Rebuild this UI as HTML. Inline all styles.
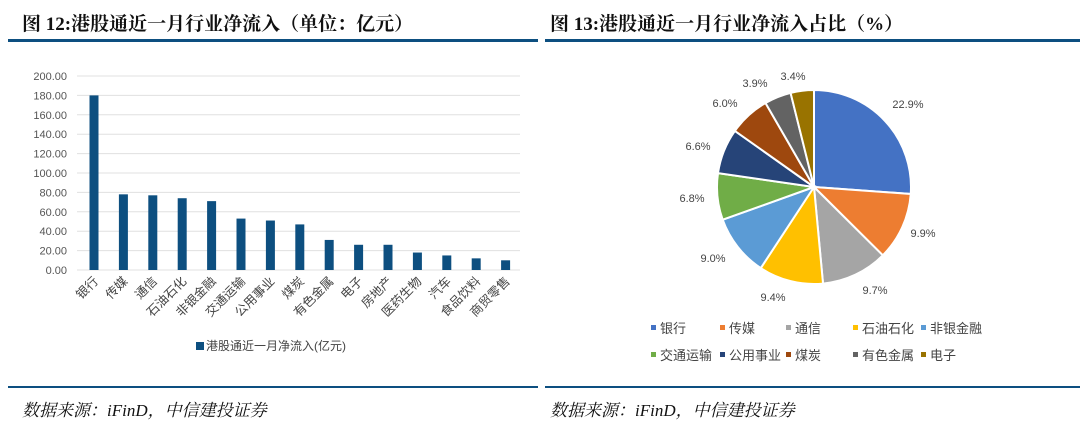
<!DOCTYPE html>
<html><head><meta charset="utf-8"><style>
body{margin:0;width:1080px;height:425px;background:#fff;overflow:hidden;position:relative;font-family:"Liberation Sans","Noto Sans CJK SC",sans-serif}
.t{position:absolute;font-family:"Liberation Serif","Noto Serif CJK SC",serif;font-weight:bold;font-size:19px;color:#111;top:9px}
.s{position:absolute;font-family:"Liberation Serif","Noto Serif CJK SC",serif;font-style:italic;font-size:17px;color:#111;top:396px}
.ln{position:absolute;height:3px;background:#0d4f80}
</style></head><body>
<div class="t" style="left:22px">图 12:港股通近一月行业净流入（单位：亿元）</div>
<div class="t" style="left:550px">图 13:港股通近一月行业净流入占比（%）</div>
<div class="ln" style="left:8px;width:530px;top:39px"></div>
<div class="ln" style="left:545px;width:535px;top:39px"></div>
<div class="ln" style="left:8px;width:530px;top:386px;height:2px"></div>
<div class="ln" style="left:545px;width:535px;top:386px;height:2px"></div>
<div class="s" style="left:22px">数据来源：iFinD，中信建投证券</div>
<div class="s" style="left:550px">数据来源：iFinD，中信建投证券</div>
<svg id="bar" width="1080" height="425" style="position:absolute;left:0;top:0" font-family="Liberation Sans, Noto Sans CJK SC, sans-serif"></svg>
<script>
var s=document.getElementById('bar'),h='';
for(var i=0;i<=10;i++){var y=270-i*19.4;h+='<line x1="77" x2="520" y1="'+y+'" y2="'+y+'" stroke="#e0e0e0" stroke-width="1"/>';
h+='<text x="67" y="'+(y+4)+'" font-size="11" fill="#555" text-anchor="end">'+(i*20).toFixed(2)+'</text>';}
var v=[180,78,77,74,71,53,51,47,31,26,26,18,15,12,10];
var n=['银行','传媒','通信','石油石化','非银金融','交通运输','公用事业','煤炭','有色金属','电子','房地产','医药生物','汽车','食品饮料','商贸零售'];
for(i=0;i<15;i++){var x=94+i*29.4;h+='<rect x="'+(x-4.5)+'" y="'+(270-v[i]*0.97)+'" width="9" height="'+(v[i]*0.97)+'" fill="#0d4f80"/>';
h+='<text transform="translate('+(x+5)+',282) rotate(-45)" font-size="12.5" fill="#444" text-anchor="end">'+n[i]+'</text>';}
h+='<rect x="196" y="342" width="8" height="8" fill="#0d4f80"/><text x="206" y="350" font-size="12" fill="#444">港股通近一月净流入(亿元)</text>';
var p=[22.9,9.9,9.7,9.4,9.0,6.8,6.6,6.0,3.9,3.4],c=['#4472c4','#ed7d31','#a5a5a5','#ffc000','#5b9bd5','#70ad47','#264478','#9e480e','#636363','#997300'];
var tot=0;p.forEach(function(a){tot+=a});var a0=-Math.PI/2,cx=814,cy=187,r=97;
for(i=0;i<10;i++){var a1=a0+p[i]/tot*2*Math.PI;var lg=(a1-a0)>Math.PI?1:0;
h+='<path d="M'+cx+','+cy+' L'+(cx+r*Math.cos(a0))+','+(cy+r*Math.sin(a0))+' A'+r+','+r+' 0 '+lg+' 1 '+(cx+r*Math.cos(a1))+','+(cy+r*Math.sin(a1))+' Z" fill="'+c[i]+'" stroke="#fff" stroke-width="2"/>';a0=a1;}
var lp=[[908,108],[923,237],[875,294],[773,301],[713,262],[692,202],[698,150],[725,107],[755,87],[793,80]];
for(i=0;i<10;i++)h+='<text x="'+lp[i][0]+'" y="'+lp[i][1]+'" font-size="11" fill="#444" text-anchor="middle">'+p[i].toFixed(1)+'%</text>';
var lx=[653,722,788,855,923];
for(i=0;i<10;i++){var x=lx[i%5],y=i<5?328:355;h+='<rect x="'+(x-2)+'" y="'+(y-3)+'" width="5" height="5" fill="'+c[i]+'"/><text x="'+(x+7)+'" y="'+(y+5)+'" font-size="13" fill="#444">'+n[i]+'</text>';}
s.innerHTML=h;
</script>
</body></html>
